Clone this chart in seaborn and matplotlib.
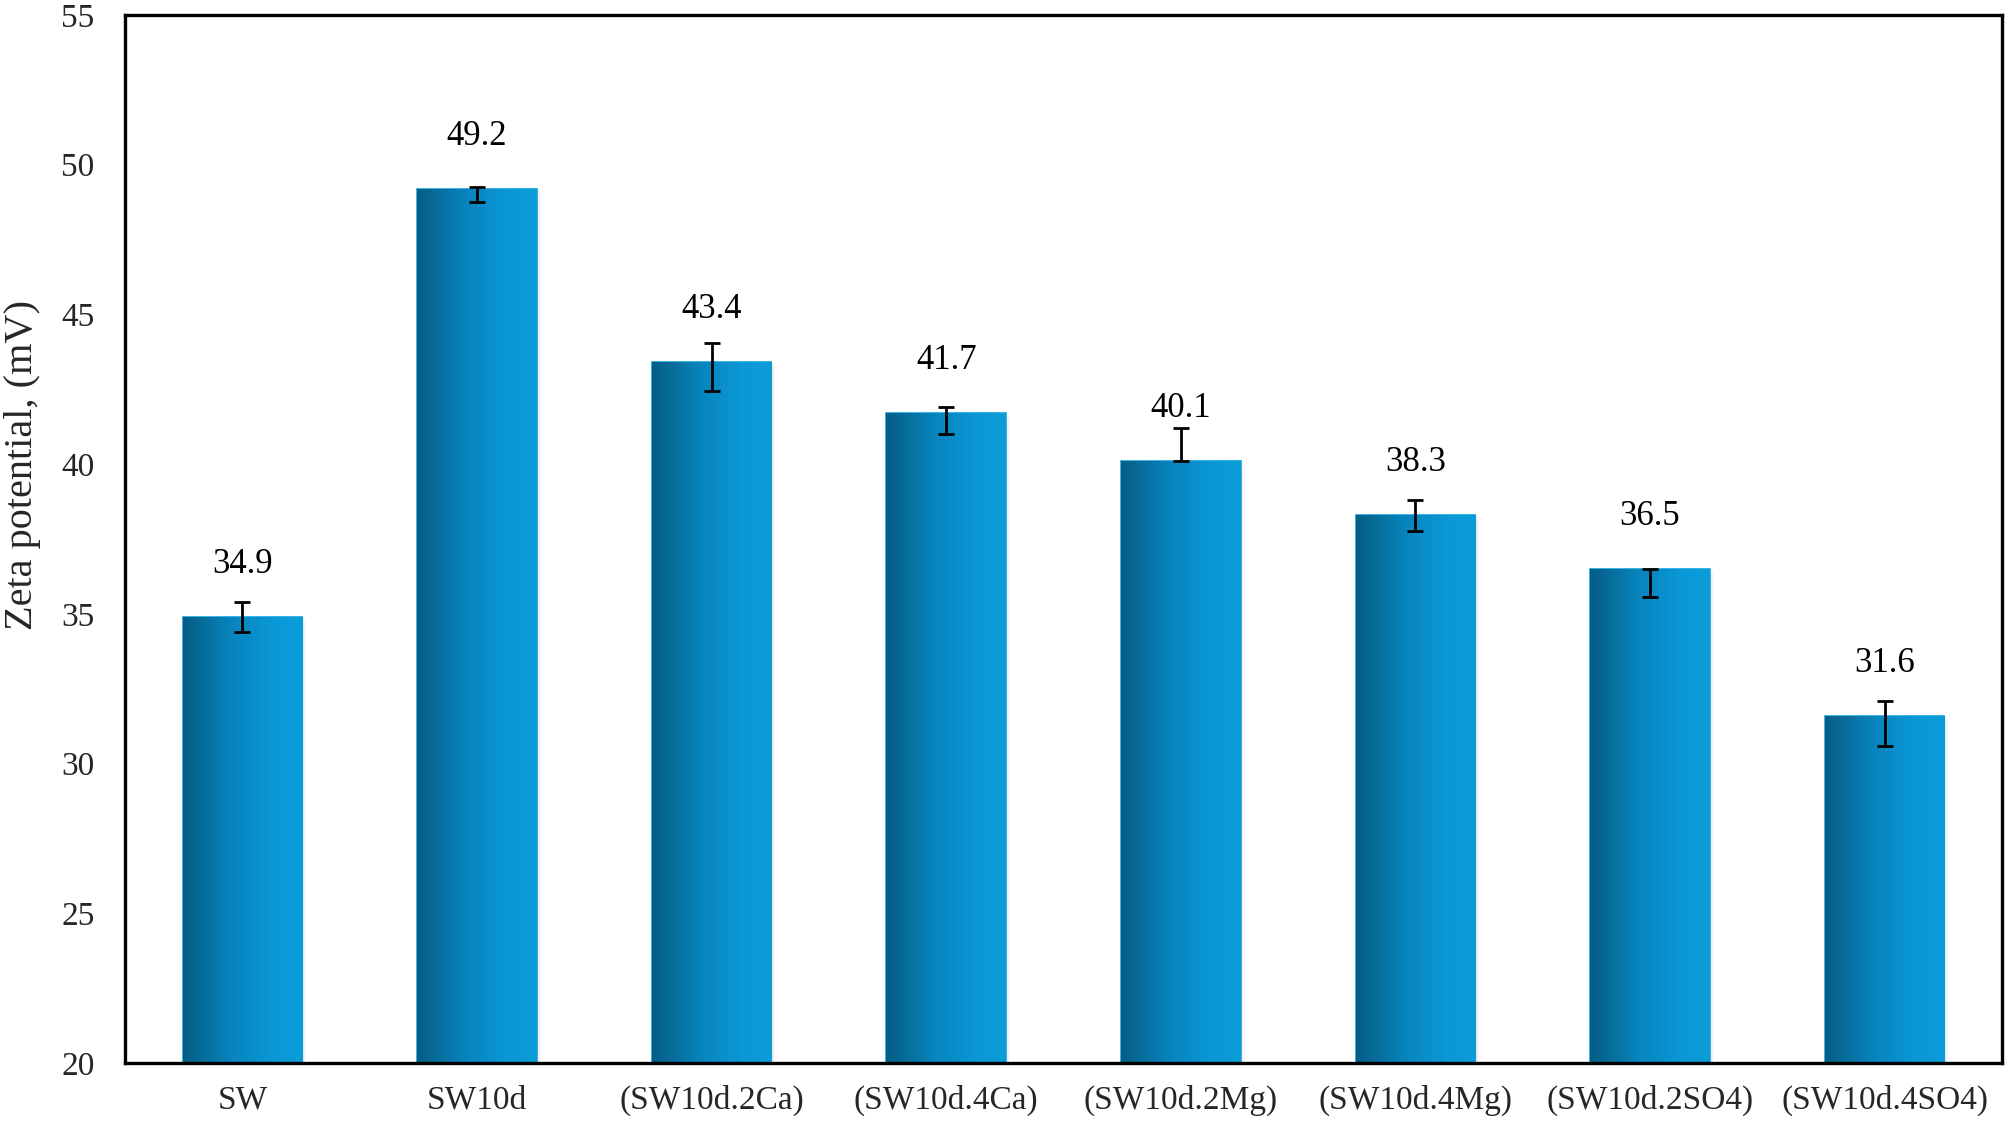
import numpy as np
import pandas as pd
import matplotlib
matplotlib.use("Agg")
import matplotlib.pyplot as plt
from matplotlib.colors import LinearSegmentedColormap
from matplotlib.patches import Rectangle
import seaborn as sns

# data
samples = ['SW', 'SW10d', '(SW10d.2Ca)', '(SW10d.4Ca)', '(SW10d.2Mg)',
           '(SW10d.4Mg)', '(SW10d.2SO4)', '(SW10d.4SO4)']
zeta = [34.9, 49.2, 43.4, 41.7, 40.1, 38.3, 36.5, 31.6]
err_low = [0.5, 0.45, 0.95, 0.7, 0.0, 0.55, 0.95, 1.0]
err_high = [0.5, 0.05, 0.65, 0.2, 1.1, 0.5, 0.0, 0.5]

df = pd.DataFrame({'sample': samples, 'zeta': zeta})

sns.set_style('white')
plt.rcParams['font.family'] = ['Liberation Serif', 'DejaVu Serif']

fig = plt.figure(figsize=(20.08, 11.24), dpi=100)
ax = fig.add_axes([0.0623, 0.0543, 0.9347, 0.9324])

sns.barplot(data=df, x='sample', y='zeta', color='#0a9ad8', width=0.51,
            ax=ax, zorder=2, edgecolor='#12a6e2', linewidth=1.2)

ax.set_ylim(20, 55)
xlim = ax.get_xlim()

# gradient fill + soft shadow on each bar
cmap = LinearSegmentedColormap.from_list(
    'bar', [(0, '#055d84'), (0.4, '#0884bc'), (0.75, '#0a98d6'), (1, '#0b9dda')])
grad = np.linspace(0, 1, 256).reshape(1, -1)
for p in ax.patches:
    x0, w, h = p.get_x(), p.get_width(), p.get_height()
    for k, a in enumerate([0.10, 0.07, 0.04]):
        sh = Rectangle((x0 + 0.006 * (k + 1), 20), w, h - 20 - 0.08 * k,
                       facecolor='#808080', alpha=a, edgecolor='none', zorder=1)
        ax.add_patch(sh)
    im = ax.imshow(grad, extent=[x0, x0 + w, 20, h], aspect='auto',
                   cmap=cmap, zorder=2.5, interpolation='bicubic')
    im.set_clip_path(p)

ax.set_xlim(xlim)
ax.set_ylim(20, 55)

pos = np.arange(len(samples))
ax.errorbar(pos, zeta, yerr=[err_low, err_high], fmt='none', ecolor='black',
            elinewidth=2.0, capsize=6, capthick=2.0, zorder=4)

for i, v in enumerate(zeta):
    ax.text(pos[i], v + 1.75, f'{v:.1f}', ha='center', va='center',
            fontsize=25, color='black', zorder=5)

ax.set_yticks(range(20, 56, 5))
ax.set_xlabel('')
ax.set_ylabel('Zeta potential, (mV)', fontsize=29)
ax.yaxis.set_label_coords(-0.045, 0.571)
ax.tick_params(axis='y', length=0, pad=22, labelsize=24)
ax.tick_params(axis='x', length=0, pad=16, labelsize=24)
for s in ax.spines.values():
    s.set_visible(True)
    s.set_color('black')
    s.set_linewidth(2.4)

fig.savefig('out.png', dpi=100, facecolor='white')
